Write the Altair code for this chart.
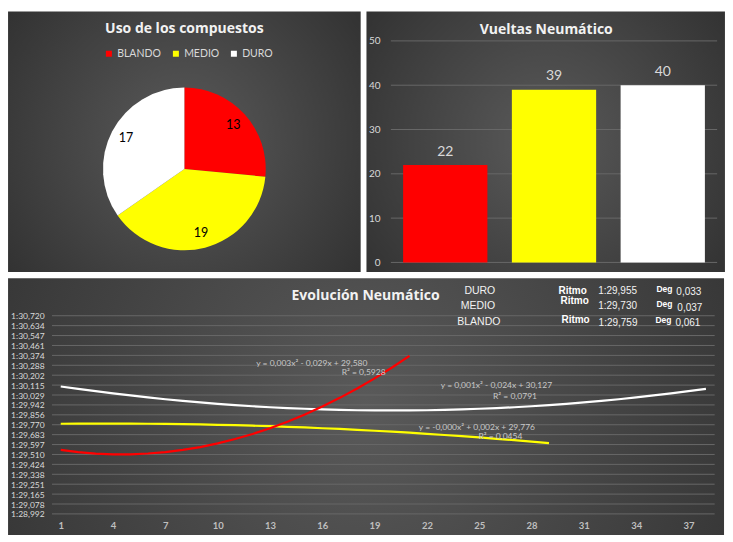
import altair as alt
import pandas as pd

# ---------------- data ----------------
compounds = ["BLANDO", "MEDIO", "DURO"]
uso_compuestos = [13, 19, 17]
vueltas_neumatico = [22, 39, 40]

# lap times (seconds)
blando_times = [89.550, 89.531, 89.518, 89.512, 89.512, 89.519, 89.531, 89.550, 89.575,
                89.607, 89.645, 89.689, 89.739, 89.796, 89.859, 89.929, 90.004, 90.086,
                90.174, 90.269, 90.370]
medio_times = [89.778, 89.779, 89.780, 89.780, 89.779, 89.778, 89.777, 89.775, 89.772,
               89.769, 89.766, 89.761, 89.757, 89.751, 89.746, 89.739, 89.733, 89.725,
               89.717, 89.709, 89.700, 89.690, 89.680, 89.670, 89.659, 89.647, 89.635,
               89.622, 89.609]
duro_times = [90.103, 90.082, 90.062, 90.043, 90.025, 90.008, 89.992, 89.978, 89.964,
              89.952, 89.941, 89.931, 89.922, 89.915, 89.909, 89.903, 89.899, 89.896,
              89.895, 89.894, 89.895, 89.896, 89.899, 89.903, 89.909, 89.915, 89.922,
              89.931, 89.941, 89.952, 89.964, 89.978, 89.992, 90.008, 90.025, 90.043,
              90.062, 90.082]

y_tick_values = [88.992, 89.0784, 89.1648, 89.2512, 89.3376, 89.424, 89.5104, 89.5968,
                 89.6832, 89.7696, 89.856, 89.9424, 90.0288, 90.1152, 90.2016, 90.288,
                 90.3744, 90.4608, 90.5472, 90.6336, 90.720]
x_tick_values = [1, 4, 7, 10, 13, 16, 19, 22, 25, 28, 31, 34, 37]
bar_tick_values = [0, 10, 20, 30, 40, 50]

hdr_names = ["DURO", "MEDIO", "BLANDO"]
hdr_ritmo_label = "Ritmo"
hdr_ritmo = ["1:29,955", "1:29,730", "1:29,759"]
hdr_deg_label = "Deg"
hdr_deg = ["0,033", "0,037", "0,061"]
trend_texts = ["y = 0,003x² - 0,029x + 29,580", "R² = 0,5928",
               "y = 0,001x² - 0,024x + 30,127", "R² = 0,0791",
               "y = -0,000x² + 0,002x + 29,776", "R² = 0,0454"]
titles = ["Uso de los compuestos", "Vueltas Neumático", "Evolución Neumático"]

# ---------------- style / layout ----------------
COLORS = ["#ff0000", "#ffff00", "#ffffff"]
W, H = 716, 525
SX, SY = W / 733, H / 542
FONT = "Lato"
TFONT = "Open Sans"
GRID = "#676767"
GRAD = {"gradient": "radial", "x1": 0.5, "y1": 0.5, "r1": 0, "x2": 0.5, "y2": 0.5, "r2": 0.75,
        "stops": [{"offset": 0, "color": "#5a5a5a"}, {"offset": 1, "color": "#2a2a2a"}]}


def sx(d):
    return d * SX


def sy(d):
    return d * SY


def background(left, top, right, bottom, ox, oy):
    return alt.Chart(pd.DataFrame({"k": [0]})).mark_rect(fill=GRAD, strokeWidth=0).encode(
        x=alt.value(sx(left - ox)), x2=alt.value(sx(right - ox)),
        y=alt.value(sy(top - oy)), y2=alt.value(sy(bottom - oy)))


def label(text, cx, by, ox, oy, **kw):
    return alt.Chart(pd.DataFrame({"t": [text]})).mark_text(
        align="center", baseline="alphabetic", **kw).encode(
        text="t:N", x=alt.value(sx(cx - ox)), y=alt.value(sy(by - oy)))


color_scale = alt.Scale(domain=compounds, range=COLORS)

# ---------------- pie panel ----------------
PX, PY = 45, 33.3
pie_df = pd.DataFrame({"compuesto": compounds, "uso": uso_compuestos, "orden": [0, 1, 2]})
pie_cx, pie_cy = sx(180.5 - PX), sy(165.5 - PY)
arcs = alt.Chart(pie_df).mark_arc(outerRadius=sy(84), strokeWidth=0).encode(
    theta=alt.Theta("uso:Q", stack=True),
    order=alt.Order("orden:Q"),
    x=alt.value(pie_cx), y=alt.value(pie_cy),
    color=alt.Color("compuesto:N", scale=color_scale, sort=compounds,
                    legend=alt.Legend(orient="none", legendX=sx(104 - PX) - 6, legendY=sy(41 - PY),
                                      direction="horizontal", title=None, symbolType="square",
                                      symbolSize=36, symbolStrokeWidth=0, labelFont=FONT,
                                      labelFontSize=10.5, labelColor="#d9d9d9", labelOffset=3,
                                      columnPadding=9, padding=0)))
pie_text = alt.Chart(pie_df).mark_text(radius=sy(68), fontSize=12.5, font=FONT, color="black").encode(
    theta=alt.Theta("uso:Q", stack=True),
    order=alt.Order("orden:Q"),
    x=alt.value(pie_cx), y=alt.value(pie_cy),
    text="uso:Q")
pie_panel = alt.layer(
    background(0, 3, 361, 272, PX, PY),
    arcs, pie_text,
    label(titles[0], 180.5, 25.5, PX, PY, font=TFONT, fontSize=14, fontWeight="bold", color="#f2f2f2"),
).properties(width=sx(316 - 45), height=sy(262 - 33.3))

# ---------------- bar panel ----------------
BX, BY = 391, 33.3
bar_df = pd.DataFrame({"compuesto": compounds, "vueltas": vueltas_neumatico})
bar_yscale = alt.Scale(domain=[0, 50], nice=False)
bar_yaxis = alt.Axis(values=bar_tick_values, title=None, grid=False, domain=False, ticks=False,
                     tickSize=0, labelPadding=sx(11), labelFont=FONT, labelFontSize=10,
                     labelColor="#d9d9d9", zindex=1)
bar_grid = alt.Chart(pd.DataFrame({"v": bar_tick_values})).mark_rule(color=GRID, strokeWidth=1).encode(
    y=alt.Y("v:Q", scale=bar_yscale, axis=bar_yaxis))
bar_base = alt.Chart(bar_df).encode(
    x=alt.X("compuesto:N", sort=compounds, axis=None,
            scale=alt.Scale(paddingInner=0.225, paddingOuter=0.1125)),
    y=alt.Y("vueltas:Q", scale=bar_yscale, axis=bar_yaxis))
bars = bar_base.mark_bar().encode(color=alt.Color("compuesto:N", scale=color_scale, legend=None))
bar_text = bar_base.mark_text(baseline="middle", dy=-sy(13.7), font=FONT, fontSize=14,
                              color="#d9d9d9").encode(text="vueltas:Q")
bar_panel = alt.layer(
    background(366, 3, 733, 272, BX, BY),
    bar_grid, bars, bar_text,
    label(titles[1], 550, 25.7, BX, BY, font=TFONT, fontSize=14, fontWeight="bold", color="#f2f2f2"),
).properties(width=sx(725 - 391), height=sy(262 - 33.3))

# ---------------- line panel ----------------
LX, LY = 45, 315.7
line_df = pd.concat([
    pd.DataFrame({"compuesto": "DURO", "vuelta": range(1, len(duro_times) + 1), "t": duro_times}),
    pd.DataFrame({"compuesto": "MEDIO", "vuelta": range(1, len(medio_times) + 1), "t": medio_times}),
    pd.DataFrame({"compuesto": "BLANDO", "vuelta": range(1, len(blando_times) + 1), "t": blando_times}),
])
yscale = alt.Scale(domain=[88.992, 90.720], nice=False, zero=False)
yaxis = alt.Axis(values=y_tick_values, title=None, grid=False, domain=False, ticks=False,
                 tickSize=0, labelPadding=sx(8), labelFont=FONT, labelFontSize=8.5,
                 labelColor="#d9d9d9", zindex=1,
                 labelExpr="floor(datum.value / 60) + ':' + replace(format(datum.value % 60, '06.3f'), '.', ',')")
line_grid = alt.Chart(pd.DataFrame({"v": y_tick_values})).mark_rule(color=GRID, strokeWidth=1).encode(
    y=alt.Y("v:Q", scale=yscale, axis=yaxis))
lines = alt.Chart(line_df).mark_line(strokeWidth=2.2).encode(
    x=alt.X("vuelta:Q", scale=alt.Scale(domain=[0.5, 38.5], nice=False, zero=False),
            axis=alt.Axis(values=x_tick_values, title=None, grid=False, domain=False, ticks=False,
                          tickSize=0, labelPadding=7, labelFont=FONT, labelFontSize=9.5,
                          labelFontWeight="bold", labelColor="#bfbfbf", zindex=1)),
    y=alt.Y("t:Q", scale=yscale, axis=yaxis),
    color=alt.Color("compuesto:N", scale=color_scale, legend=None),
    order=alt.Order("vuelta:Q"),
)

hdr_layers = []
name_pos = [(483, 293.3), (481, 308.3), (482, 325)]
ritmo_pos = [(578, 293.3), (580, 303.3), (581, 323.3)]
val_pos = [(624, 293.5), (624, 308.5), (624.5, 326.5)]
deg_pos = [(672, 290.7), (672, 306.7), (671, 323.3)]
degv_pos = [(697, 294.5), (698, 310.5), (696, 326.5)]
for i in range(3):
    hdr_layers.append(label(hdr_names[i], *name_pos[i], LX, LY, font="Liberation Sans", fontSize=10.5, color="#f2f2f2"))
    hdr_layers.append(label(hdr_ritmo_label, *ritmo_pos[i], LX, LY, font="Liberation Sans", fontSize=10, fontWeight="bold", color="#ffffff"))
    hdr_layers.append(label(hdr_ritmo[i], *val_pos[i], LX, LY, font="Liberation Sans", fontSize=10, color="#f2f2f2"))
    hdr_layers.append(label(hdr_deg_label, *deg_pos[i], LX, LY, font="Liberation Sans", fontSize=8.5, fontWeight="bold", color="#ffffff"))
    hdr_layers.append(label(hdr_deg[i], *degv_pos[i], LX, LY, font="Liberation Sans", fontSize=10, color="#f2f2f2"))

trend_pos = [(311, 367.5), (364, 376.5), (500, 390), (519, 401.5), (480, 433.5), (504, 443)]
trend_layers = [label(t, *p, LX, LY, font=FONT, fontSize=8.5, color="#c8c8c8")
                for t, p in zip(trend_texts, trend_pos)]

line_panel = alt.layer(
    background(0, 277, 733, 542, LX, LY),
    line_grid, lines,
    *trend_layers, *hdr_layers,
    label(titles[2], 366, 299, LX, LY, font=TFONT, fontSize=14, fontWeight="bold", color="#f2f2f2"),
).properties(width=sx(723.4 - 45), height=sy(520.3 - 315.7))

top = alt.hconcat(pie_panel, bar_panel, spacing=sx(5)).resolve_scale(color="independent")
chart = alt.vconcat(top, line_panel, spacing=sy(5)).resolve_scale(color="independent").properties(
    padding={"left": 0, "top": sy(3), "right": 0, "bottom": 0}
).configure(background="white").configure_view(stroke=None)

chart.save("out.html", embed_options={"renderer": "svg", "actions": False})
